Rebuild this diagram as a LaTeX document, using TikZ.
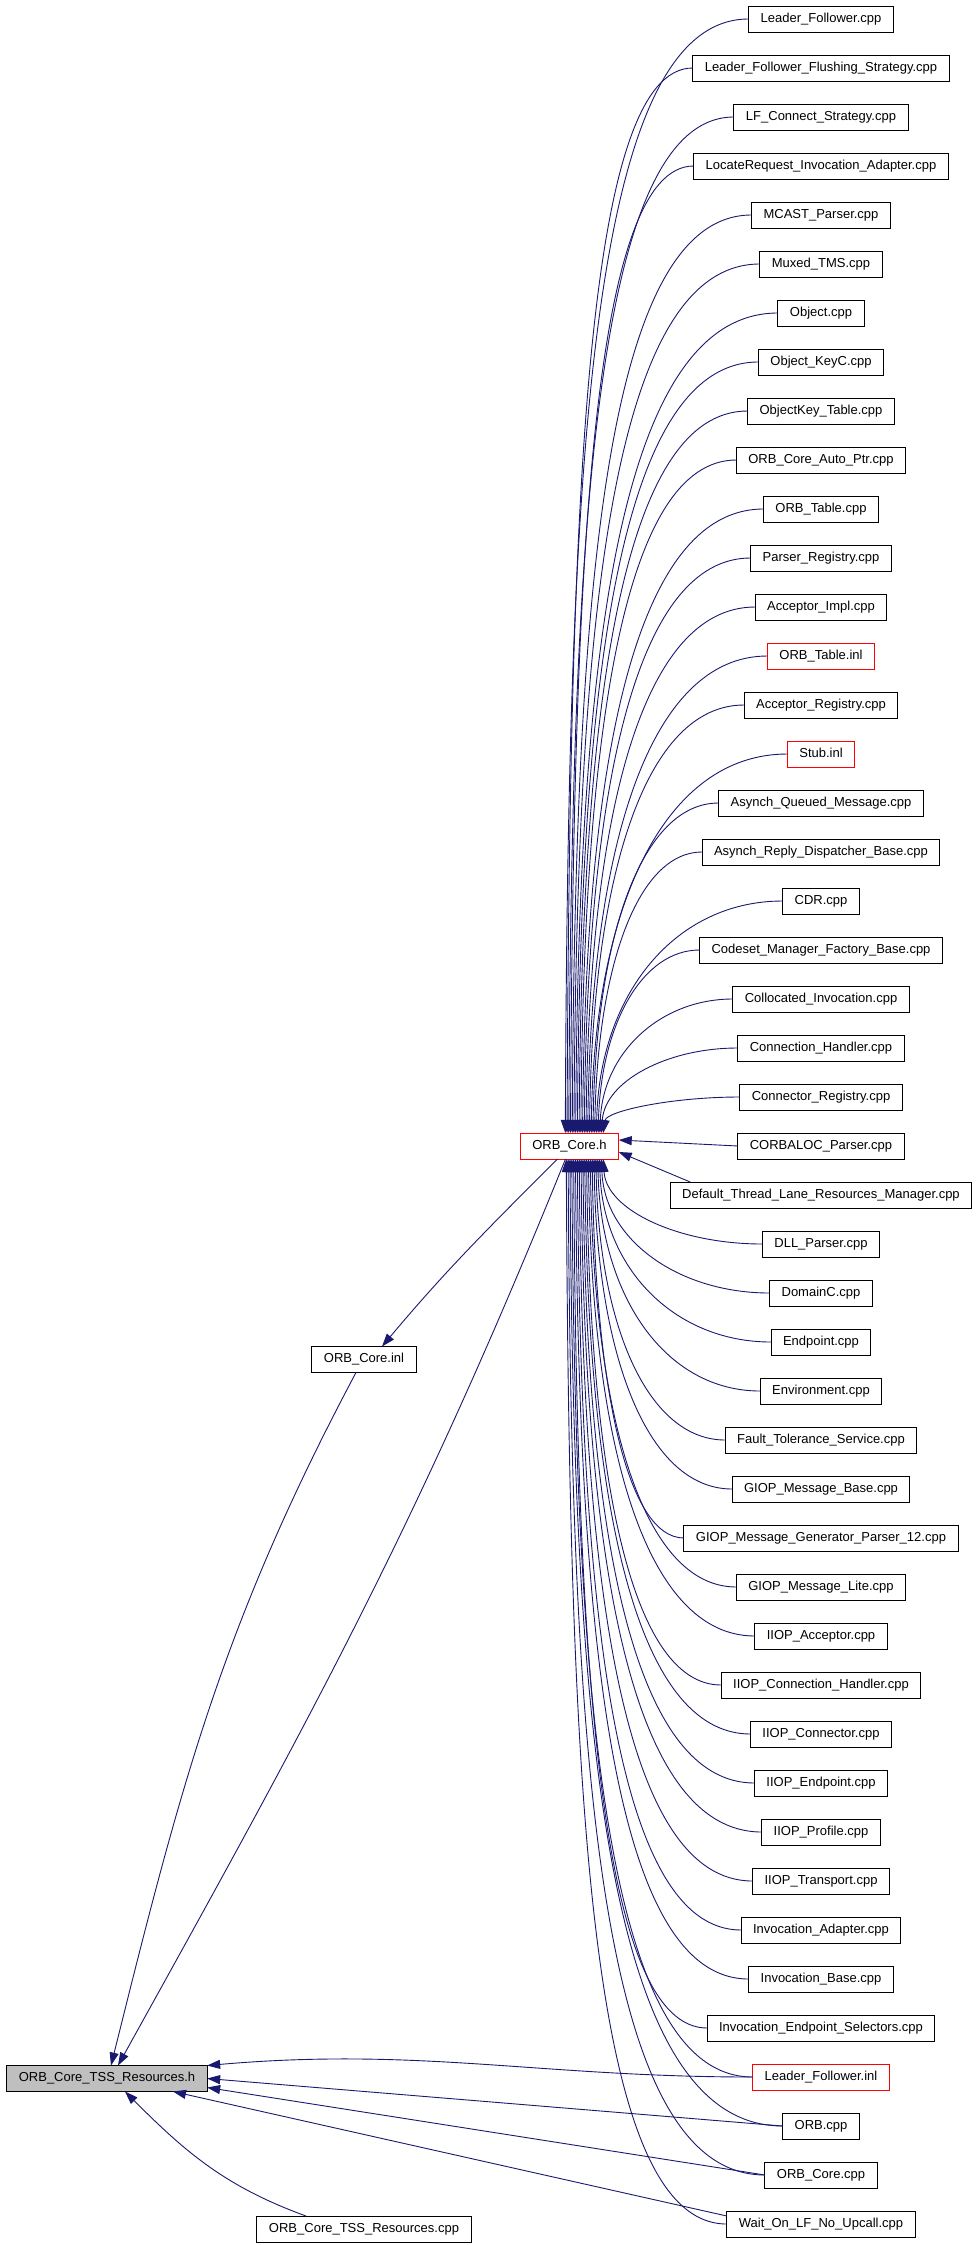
\documentclass[tikz,border=0pt]{standalone}
\usepackage{fontspec}
\setmainfont{Liberation Sans}
\usetikzlibrary{arrows.meta}
\usetikzlibrary{calc}
\usetikzlibrary{matrix}

\definecolor{edgeblue}{RGB}{25,25,112}

\tikzset{
  file/.style={draw=black,line width=1pt,rectangle,anchor=center,minimum height=26pt,
    inner xsep=12pt,inner ysep=0pt,outer sep=0pt,text height=9.5pt,text depth=2.8pt,
    font=\fontsize{13}{15}\selectfont},
  hl/.style={draw=red},
  focus/.style={fill=black!25},
  dep/.style={draw=edgeblue,line width=0.9pt,-{Triangle[length=13pt,width=9pt]}}
}

\begin{document}
\begin{tikzpicture}[x=1pt,y=-1pt]

  \fill [white] (0,0) rectangle (979,2245);
  \useasboundingbox (0,0) rectangle (979,2245);

  \matrix (files) [matrix of nodes,row sep=22pt,nodes={file},inner sep=0pt,outer sep=0pt,anchor=north] at (821,5.5) {
    |(Leader_Follower_cpp)| Leader\_Follower.cpp \\
    |(Leader_Follower_Flushing_Strategy_cpp)| Leader\_Follower\_Flushing\_Strategy.cpp \\
    |(LF_Connect_Strategy_cpp)| LF\_Connect\_Strategy.cpp \\
    |(LocateRequest_Invocation_Adapter_cpp)| LocateRequest\_Invocation\_Adapter.cpp \\
    |(MCAST_Parser_cpp)| MCAST\_Parser.cpp \\
    |(Muxed_TMS_cpp)| Muxed\_TMS.cpp \\
    |(Object_cpp)| Object.cpp \\
    |(Object_KeyC_cpp)| Object\_KeyC.cpp \\
    |(ObjectKey_Table_cpp)| ObjectKey\_Table.cpp \\
    |(ORB_Core_Auto_Ptr_cpp)| ORB\_Core\_Auto\_Ptr.cpp \\
    |(ORB_Table_cpp)| ORB\_Table.cpp \\
    |(Parser_Registry_cpp)| Parser\_Registry.cpp \\
    |(Acceptor_Impl_cpp)| Acceptor\_Impl.cpp \\
    |[hl] (ORB_Table_inl)| ORB\_Table.inl \\
    |(Acceptor_Registry_cpp)| Acceptor\_Registry.cpp \\
    |[hl] (Stub_inl)| Stub.inl \\
    |(Asynch_Queued_Message_cpp)| Asynch\_Queued\_Message.cpp \\
    |(Asynch_Reply_Dispatcher_Base_cpp)| Asynch\_Reply\_Dispatcher\_Base.cpp \\
    |(CDR_cpp)| CDR.cpp \\
    |(Codeset_Manager_Factory_Base_cpp)| Codeset\_Manager\_Factory\_Base.cpp \\
    |(Collocated_Invocation_cpp)| Collocated\_Invocation.cpp \\
    |(Connection_Handler_cpp)| Connection\_Handler.cpp \\
    |(Connector_Registry_cpp)| Connector\_Registry.cpp \\
    |(CORBALOC_Parser_cpp)| CORBALOC\_Parser.cpp \\
    |(Default_Thread_Lane_Resources_Manager_cpp)| Default\_Thread\_Lane\_Resources\_Manager.cpp \\
    |(DLL_Parser_cpp)| DLL\_Parser.cpp \\
    |(DomainC_cpp)| DomainC.cpp \\
    |(Endpoint_cpp)| Endpoint.cpp \\
    |(Environment_cpp)| Environment.cpp \\
    |(Fault_Tolerance_Service_cpp)| Fault\_Tolerance\_Service.cpp \\
    |(GIOP_Message_Base_cpp)| GIOP\_Message\_Base.cpp \\
    |(GIOP_Message_Generator_Parser_12_cpp)| GIOP\_Message\_Generator\_Parser\_12.cpp \\
    |(GIOP_Message_Lite_cpp)| GIOP\_Message\_Lite.cpp \\
    |(IIOP_Acceptor_cpp)| IIOP\_Acceptor.cpp \\
    |(IIOP_Connection_Handler_cpp)| IIOP\_Connection\_Handler.cpp \\
    |(IIOP_Connector_cpp)| IIOP\_Connector.cpp \\
    |(IIOP_Endpoint_cpp)| IIOP\_Endpoint.cpp \\
    |(IIOP_Profile_cpp)| IIOP\_Profile.cpp \\
    |(IIOP_Transport_cpp)| IIOP\_Transport.cpp \\
    |(Invocation_Adapter_cpp)| Invocation\_Adapter.cpp \\
    |(Invocation_Base_cpp)| Invocation\_Base.cpp \\
    |(Invocation_Endpoint_Selectors_cpp)| Invocation\_Endpoint\_Selectors.cpp \\
    |[hl] (Leader_Follower_inl)| Leader\_Follower.inl \\
    |(ORB_cpp)| ORB.cpp \\
    |(ORB_Core_cpp)| ORB\_Core.cpp \\
    |(Wait_On_LF_No_Upcall_cpp)| Wait\_On\_LF\_No\_Upcall.cpp \\
  };

  \node [file,hl] (ORB_Core_h) at (569.5,1146) {ORB\_Core.h};
  \node [file] (ORB_Core_inl) at (364,1359.5) {ORB\_Core.inl};
  \node [file,focus] (ORB_Core_TSS_Resources_h) at (107,2078.5) {ORB\_Core\_TSS\_Resources.h};
  \node [file] (ORB_Core_TSS_Resources_cpp) at (364,2229) {ORB\_Core\_TSS\_Resources.cpp};

  % files above ORB_Core.h
  \foreach \f [count=\k from 0] in {Leader_Follower_cpp,Leader_Follower_Flushing_Strategy_cpp,
      LF_Connect_Strategy_cpp,LocateRequest_Invocation_Adapter_cpp,MCAST_Parser_cpp,Muxed_TMS_cpp,
      Object_cpp,Object_KeyC_cpp,ObjectKey_Table_cpp,ORB_Core_Auto_Ptr_cpp,ORB_Table_cpp,
      Parser_Registry_cpp,Acceptor_Impl_cpp,ORB_Table_inl,Acceptor_Registry_cpp,Stub_inl,
      Asynch_Queued_Message_cpp,Asynch_Reply_Dispatcher_Base_cpp,CDR_cpp,
      Codeset_Manager_Factory_Base_cpp,Collocated_Invocation_cpp,Connection_Handler_cpp,
      Connector_Registry_cpp} {
    \pgfmathsetmacro\sh{45+38*\k/22}
    \draw [dep] let \p1=(\f.west), \p2=([xshift=\sh]ORB_Core_h.north west),
      \n1={\y1-\y2}, \n2={\x1-\x2}, \n3={min(0.87,0.5+abs(\n1)/3000)} in
      (\p1) .. controls ({\x1-\n3*\n2},\y1) and ({\x2+3pt},{\y2+0.6*\n1}) .. (\p2);
  }

  \draw [dep] (CORBALOC_Parser_cpp.west) -- ([yshift=6pt]ORB_Core_h.east);
  \draw [dep] ([xshift=20pt]Default_Thread_Lane_Resources_Manager_cpp.north west) -- ([yshift=-6pt]ORB_Core_h.east);

  % files below ORB_Core.h
  \foreach \f [count=\k from 25] in {DLL_Parser_cpp,DomainC_cpp,Endpoint_cpp,Environment_cpp,
      Fault_Tolerance_Service_cpp,GIOP_Message_Base_cpp,GIOP_Message_Generator_Parser_12_cpp,
      GIOP_Message_Lite_cpp,IIOP_Acceptor_cpp,IIOP_Connection_Handler_cpp,IIOP_Connector_cpp,
      IIOP_Endpoint_cpp,IIOP_Profile_cpp,IIOP_Transport_cpp,Invocation_Adapter_cpp,
      Invocation_Base_cpp,Invocation_Endpoint_Selectors_cpp,Leader_Follower_inl,ORB_cpp,
      ORB_Core_cpp,Wait_On_LF_No_Upcall_cpp} {
    \pgfmathsetmacro\sh{83-37*(\k-25)/20}
    \draw [dep] let \p1=(\f.west), \p2=([xshift=\sh]ORB_Core_h.south west),
      \n1={\y1-\y2}, \n2={\x1-\x2}, \n3={min(0.87,0.5+abs(\n1)/3000)} in
      (\p1) .. controls ({\x1-\n3*\n2},\y1) and ({\x2+3pt},{\y2+0.6*\n1}) .. (\p2);
  }

  \draw [dep] ([xshift=-12pt]ORB_Core_h.south) to [out=-135,in=50] ([xshift=18pt]ORB_Core_inl.north);
  \draw [dep] ([xshift=-8pt]ORB_Core_inl.south) to [out=-118,in=76] ([xshift=4pt]ORB_Core_TSS_Resources_h.north);
  \draw [dep] ([xshift=-4pt]ORB_Core_h.south) to [out=-112,in=61] ([xshift=11pt]ORB_Core_TSS_Resources_h.north);

  \draw [dep] (Leader_Follower_inl.west) to [out=180,in=5] (ORB_Core_TSS_Resources_h.north east);
  \draw [dep] (ORB_cpp.west) -- (ORB_Core_TSS_Resources_h.east);
  \draw [dep] (ORB_Core_cpp.west) -- ([yshift=-9pt]ORB_Core_TSS_Resources_h.east);
  \draw [dep] ([yshift=8pt]Wait_On_LF_No_Upcall_cpp.west) -- ([xshift=66pt]ORB_Core_TSS_Resources_h.south);
  \draw [dep] ([xshift=-58pt]ORB_Core_TSS_Resources_cpp.north) to [out=160,in=-45] ([xshift=18pt]ORB_Core_TSS_Resources_h.south);

\end{tikzpicture}
\end{document}
